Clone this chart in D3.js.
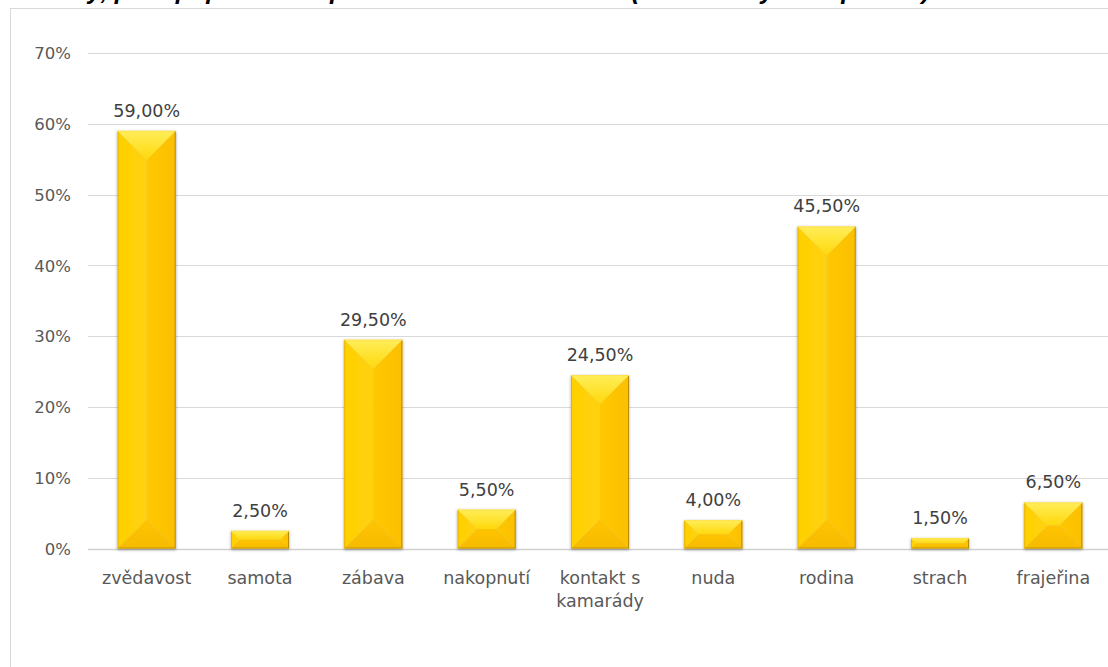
<!DOCTYPE html>
<html><head><meta charset="utf-8">
<script src="https://cdn.jsdelivr.net/npm/d3@7/dist/d3.min.js"></script>
<style>html,body{margin:0;padding:0;background:#fff;overflow:hidden}</style>
</head><body>
<svg id="c" width="1108" height="667"></svg>
<script>
const titleText = "Důvody, proč poprvé sáhli po alkoholu nebo tabáku (více možných odpovědí)";
const categories = ["zvědavost","samota","zábava","nakopnutí","kontakt s\nkamarády","nuda","rodina","strach","frajeřina"];
const values = [59.0, 2.5, 29.5, 5.5, 24.5, 4.0, 45.5, 1.5, 6.5];
const yTicks = [0,10,20,30,40,50,60,70];

const svg = d3.select("#c");
const font = "'DejaVu Sans', sans-serif";

const defs = svg.append("defs");
const f = defs.append("filter").attr("id","sh").attr("x","-30%").attr("y","-30%").attr("width","160%").attr("height","160%");
f.append("feDropShadow").attr("dx",0).attr("dy",1).attr("stdDeviation",1.8).attr("flood-color","#000").attr("flood-opacity",0.38);
const gTop = defs.append("linearGradient").attr("id","gTop").attr("x1",0).attr("y1",0).attr("x2",0).attr("y2",1);
gTop.append("stop").attr("offset","0%").attr("stop-color","#FFEE5A");
gTop.append("stop").attr("offset","100%").attr("stop-color","#FFD80A");
const gLeft = defs.append("linearGradient").attr("id","gLeft").attr("x1",0).attr("y1",0).attr("x2",1).attr("y2",0);
gLeft.append("stop").attr("offset","0%").attr("stop-color","#FFD000");
gLeft.append("stop").attr("offset","100%").attr("stop-color","#FFD20E");
const gRight = defs.append("linearGradient").attr("id","gRight").attr("x1",0).attr("y1",0).attr("x2",1).attr("y2",0);
gRight.append("stop").attr("offset","0%").attr("stop-color","#FFC800");
gRight.append("stop").attr("offset","100%").attr("stop-color","#FBBF00");
const gBot = defs.append("linearGradient").attr("id","gBot").attr("x1",0).attr("y1",0).attr("x2",0).attr("y2",1);
gBot.append("stop").attr("offset","0%").attr("stop-color","#FFC400");
gBot.append("stop").attr("offset","100%").attr("stop-color","#F6BA00");

// title (mostly cut off at the top)
svg.append("text").attr("x",10).attr("y",-1)
  .attr("font-family","'Liberation Sans', Arial, sans-serif").attr("font-weight","bold").attr("font-style","italic")
  .attr("font-size",25).attr("fill","#000").text(titleText);

// chart border
svg.append("rect").attr("x",10.5).attr("y",8.5).attr("width",1200).attr("height",800)
  .attr("fill","none").attr("stroke","#d9d9d9").attr("stroke-width",1);

const x = d3.scaleBand().domain(categories).range([90,1110]).paddingInner(0.488).paddingOuter(0.244);
const y = d3.scaleLinear().domain([0,70]).range([548.5,53]);

// gridlines + y labels
const yAxis = d3.axisLeft(y).tickValues(yTicks).tickFormat(d => d + "%").tickSize(0).tickPadding(0);
const ga = svg.append("g").attr("transform","translate(71,0)").call(yAxis);
ga.select(".domain").remove();
ga.selectAll("text").attr("font-family",font).attr("font-size",16.5).attr("fill","#595959").attr("dy","0.35em");

svg.append("g").selectAll("line").data(yTicks).join("line")
  .attr("x1",88).attr("x2",1108)
  .attr("y1",d => Math.round(y(d))+0.5).attr("y2",d => Math.round(y(d))+0.5)
  .attr("stroke",d => d===0 ? "#d0d0d0" : "#d9d9d9").attr("stroke-width",d => d===0 ? 1.5 : 1);

// bars
const bars = svg.append("g").selectAll("g").data(categories.map((c,i)=>({c, v:values[i]}))).join("g")
  .attr("filter","url(#sh)");
bars.each(function(d){
  const g = d3.select(this);
  const x0 = x(d.c), x1 = x0 + x.bandwidth();
  const y0 = y(d.v), y1 = y(0);
  const w = x1-x0, h = y1-y0;
  const b = Math.min(w/2, h/2);
  const P = pts => pts.map(p=>p.join(",")).join(" ");
  g.append("polygon").attr("points",P([[x0,y0],[x0+b,y0+b],[x0+b,y1-b],[x0,y1]])).attr("fill","url(#gLeft)");
  g.append("polygon").attr("points",P([[x1,y0],[x1-b,y0+b],[x1-b,y1-b],[x1,y1]])).attr("fill","url(#gRight)");
  if (w-2*b > 0.1) {
    g.append("rect").attr("x",x0+b).attr("y",y0+b).attr("width",w-2*b).attr("height",Math.max(0,h-2*b)).attr("fill","#FFCC00");
  }
  g.append("polygon").attr("points",P([[x0,y0],[x1,y0],[x1-b,y0+b],[x0+b,y0+b]])).attr("fill","url(#gTop)");
  g.append("polygon").attr("points",P([[x0,y1],[x1,y1],[x1-b,y1-b],[x0+b,y1-b]])).attr("fill","url(#gBot)");
  // edges
  g.append("line").attr("x1",x1-0.5).attr("x2",x1-0.5).attr("y1",y0).attr("y2",y1).attr("stroke","#B88C00").attr("stroke-width",1);
  g.append("line").attr("x1",x0).attr("x2",x1).attr("y1",y1-0.5).attr("y2",y1-0.5).attr("stroke","#C49500").attr("stroke-width",1);
  g.append("line").attr("x1",x0+0.5).attr("x2",x0+0.5).attr("y1",y0).attr("y2",y1).attr("stroke","#E6B400").attr("stroke-width",1);
  g.append("line").attr("x1",x0).attr("x2",x1).attr("y1",y0+0.5).attr("y2",y0+0.5).attr("stroke","#FFE04A").attr("stroke-width",1);
});

// data labels
const fmt = v => v.toFixed(2).replace(".", ",") + "%";
svg.append("g").selectAll("text").data(categories.map((c,i)=>({c, v:values[i]}))).join("text")
  .attr("x",d => x(d.c) + x.bandwidth()/2).attr("y",d => y(d.v) - 14)
  .attr("text-anchor","middle").attr("font-family",font).attr("font-size",17.5).attr("fill","#404040")
  .text(d => fmt(d.v));

// category labels
const cl = svg.append("g").selectAll("text").data(categories).join("text")
  .attr("x",d => x(d) + x.bandwidth()/2).attr("y",584)
  .attr("text-anchor","middle").attr("font-family",font).attr("font-size",17.5).attr("fill","#595959");
cl.each(function(d){
  const t = d3.select(this);
  d.split("\n").forEach((line,i)=>{
    t.append("tspan").attr("x",x(d)+x.bandwidth()/2).attr("dy",i===0?0:23).text(line);
  });
});
</script>
</body></html>
